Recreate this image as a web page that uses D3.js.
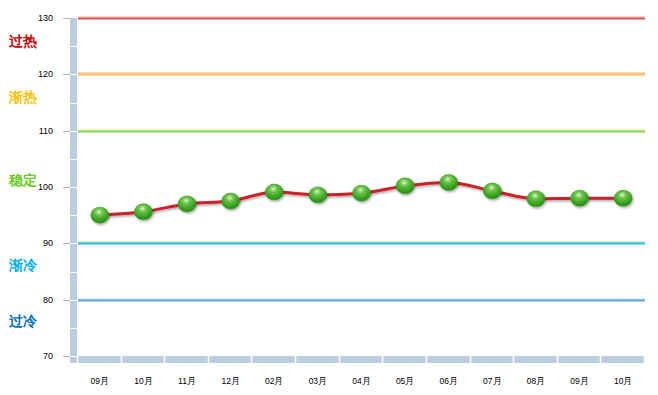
<!DOCTYPE html>
<html>
<head>
<meta charset="UTF-8">
<title>Index chart</title>
<style type="text/css">
	body{ margin:0; background:#fff; }
	text{ font-family: "Liberation Sans", Arial, sans-serif; }
</style>
</head>
<body>
<script src="https://cdn.jsdelivr.net/npm/d3@7/dist/d3.min.js"></script>
<script>
var months = ["09月","10月","11月","12月","02月","03月","04月","05月","06月","07月","08月","09月","10月"];
var values = [95.0, 95.6, 97.0, 97.5, 99.1, 98.6, 98.9, 100.2, 100.8, 99.3, 97.9, 98.0, 98.0];
var yTicks = [70, 80, 90, 100, 110, 120, 130];
var levels = [130, 120, 110, 90, 80];
var levelColors = ["#d9534f", "#fdbf4a", "#7ed84a", "#2ab8ee", "#5aa6e0"];
var levelAbove = ["#f0a0a0", "#eda6a0", "#eee58a", "#a6e48a", "#a8d4f2"];
var zoneNames = ["过热", "渐热", "稳定", "渐冷", "过冷"];
var zoneValues = [126, 116, 101.3, 86.2, 76.2];
var zoneColors = ["#cc0000", "#ffc000", "#66cc22", "#00b0f0", "#0070c0"];

var width = 658, height = 395;
var plotLeft = 78, plotRight = 645, plotTop = 18, plotBottom = 356;

var svg = d3.select("body").append("svg")
	.attr("width", width)
	.attr("height", height);

var x = d3.scaleBand().domain(d3.range(months.length)).range([plotLeft, plotRight]);
var y = d3.scaleLinear().domain([70, 130]).range([plotBottom, plotTop]);

// shadows and gradient for the balls
var defs = svg.append("defs");
var grad = defs.append("radialGradient").attr("id", "ball")
	.attr("cx", "45%").attr("cy", "30%").attr("r", "70%");
grad.append("stop").attr("offset", "0%").attr("stop-color", "#d8f5c0");
grad.append("stop").attr("offset", "30%").attr("stop-color", "#6cc44a");
grad.append("stop").attr("offset", "75%").attr("stop-color", "#36a020");
grad.append("stop").attr("offset", "100%").attr("stop-color", "#2a8a18");
var sh = defs.append("filter").attr("id", "shadow").attr("x", "-50%").attr("y", "-50%").attr("width", "200%").attr("height", "200%");
sh.append("feDropShadow").attr("dx", 1).attr("dy", 1.5).attr("stdDeviation", 1.2).attr("flood-color", "#000").attr("flood-opacity", 0.35);

// y axis bar
svg.append("rect").attr("x", 70).attr("y", plotTop).attr("width", 7).attr("height", plotBottom - plotTop + 7).attr("fill", "#bccddf");
// x axis bar
svg.append("rect").attr("x", 70).attr("y", plotBottom).attr("width", plotRight - 70).attr("height", 7).attr("fill", "#bccddf");

// white separators on y bar (every 5)
svg.append("g").selectAll("line")
	.data(d3.range(75, 130, 5))
	.enter().append("line")
	.attr("x1", 70).attr("x2", 77)
	.attr("y1", function(d){ return Math.round(y(d)) + 0.5; })
	.attr("y2", function(d){ return Math.round(y(d)) + 0.5; })
	.attr("stroke", "#fff").attr("stroke-width", 1);
svg.append("line").attr("x1", 70).attr("x2", 77).attr("y1", plotBottom + 0.5).attr("y2", plotBottom + 0.5).attr("stroke", "#fff");

// white separators on x bar
svg.append("g").selectAll("line")
	.data(d3.range(months.length + 1))
	.enter().append("line")
	.attr("x1", function(d){ return Math.round(plotLeft + d * x.step()) - 0.5; })
	.attr("x2", function(d){ return Math.round(plotLeft + d * x.step()) - 0.5; })
	.attr("y1", plotBottom).attr("y2", plotBottom + 7)
	.attr("stroke", "#fff").attr("stroke-width", 1.5);

// y ticks and labels
var yg = svg.append("g");
yg.selectAll("line").data(yTicks).enter().append("line")
	.attr("x1", 63).attr("x2", 70)
	.attr("y1", function(d){ return Math.round(y(d)) + 0.5; })
	.attr("y2", function(d){ return Math.round(y(d)) + 0.5; })
	.attr("stroke", "#a8b8c8");
yg.selectAll("text").data(yTicks).enter().append("text")
	.attr("x", 53).attr("y", function(d){ return y(d) + 3; })
	.attr("text-anchor", "end").attr("font-size", "9px").attr("fill", "#000")
	.text(function(d){ return d; });

// x labels
svg.append("g").selectAll("text").data(months).enter().append("text")
	.attr("x", function(d, i){ return x(i) + x.bandwidth() / 2; })
	.attr("y", 384)
	.attr("text-anchor", "middle").attr("font-size", "8.5px").attr("fill", "#000")
	.attr("font-family", "'DejaVu Sans', sans-serif")
	.text(function(d){ return d; });

// threshold lines
var lg = svg.append("g");
levels.forEach(function(v, i){
	var yy = Math.round(y(v));
	lg.append("line").attr("x1", plotLeft).attr("x2", plotRight)
		.attr("y1", yy - 1).attr("y2", yy - 1)
		.attr("stroke", levelAbove[i]).attr("stroke-width", 1.2);
	lg.append("line").attr("x1", plotLeft).attr("x2", plotRight)
		.attr("y1", yy + 0.5).attr("y2", yy + 0.5)
		.attr("stroke", levelColors[i]).attr("stroke-width", 1.8);
});

// zone names
svg.append("g").selectAll("text").data(zoneNames).enter().append("text")
	.attr("x", 9).attr("y", function(d, i){ return y(zoneValues[i]) + 5; })
	.attr("font-size", "14px").attr("font-weight", "bold")
	.attr("font-family", "'Noto Sans CJK SC', sans-serif")
	.attr("fill", function(d, i){ return zoneColors[i]; })
	.text(function(d){ return d; });

// data line
var line = d3.line()
	.x(function(d, i){ return x(i) + x.bandwidth() / 2; })
	.y(function(d){ return y(d); })
	.curve(d3.curveMonotoneX);
svg.append("path").datum(values)
	.attr("d", line)
	.attr("fill", "none")
	.attr("stroke", "#c8242c")
	.attr("stroke-width", 3)
	.attr("filter", "url(#shadow)");

// balls
svg.append("g").selectAll("ellipse").data(values).enter().append("ellipse")
	.attr("cx", function(d, i){ return x(i) + x.bandwidth() / 2; })
	.attr("cy", function(d){ return y(d); })
	.attr("rx", 9).attr("ry", 8)
	.attr("fill", "url(#ball)")
	.attr("stroke", "#3a9a22").attr("stroke-width", 0.6)
	.attr("filter", "url(#shadow)");
</script>
</body>
</html>
